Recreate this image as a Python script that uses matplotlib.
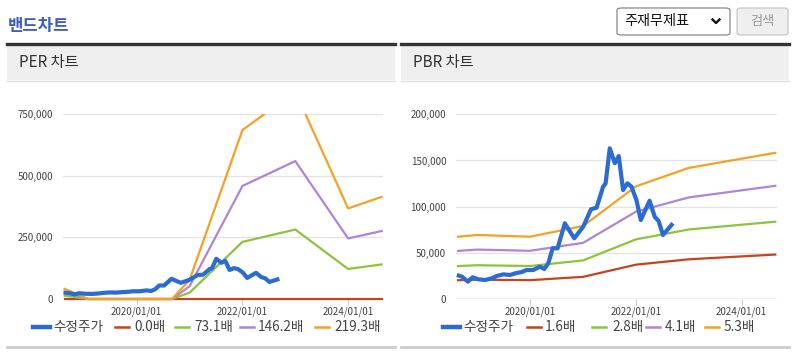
import matplotlib
matplotlib.use("Agg")
import matplotlib.pyplot as plt
import matplotlib.dates as mdates
from matplotlib.lines import Line2D
from matplotlib.patches import Rectangle, FancyBboxPatch
import pandas as pd

plt.rcParams['font.family'] = ['Noto Sans CJK KR', 'DejaVu Sans']

# ---------------- data ----------------
price_dates = ["2018-08-14", "2018-09-18", "2018-10-29", "2018-11-30", "2019-01-10",
               "2019-02-25", "2019-04-12", "2019-05-16", "2019-07-01", "2019-08-16",
               "2019-09-20", "2019-11-04", "2019-12-08", "2020-01-23", "2020-03-09",
               "2020-04-08", "2020-05-06", "2020-06-05", "2020-07-09", "2020-08-28",
               "2020-11-01", "2021-01-02", "2021-02-24", "2021-04-04", "2021-05-19",
               "2021-06-05", "2021-07-04", "2021-08-08", "2021-09-04", "2021-10-04",
               "2021-11-03", "2021-12-01", "2022-01-04", "2022-02-03", "2022-04-05",
               "2022-05-10", "2022-06-06", "2022-07-06", "2022-09-13"]
price = [26000, 24200, 18800, 23500, 21300, 20600, 22400, 24900, 26700, 26000,
         27800, 29200, 31400, 31400, 35000, 32500, 38700, 54900, 54900, 82000,
         65700, 78300, 97100, 98900, 121600, 125000, 163200, 147000, 154800, 118000,
         125300, 121600, 107200, 85500, 106400, 89100, 84500, 69300, 82000]

per_dates = ["2018-08-14", "2019-02-01", "2020-01-01", "2020-09-01", "2021-01-01",
             "2022-01-01", "2023-01-01", "2024-01-01", "2024-08-27"]
per_labels = ["0.0배", "73.1배", "146.2배", "219.3배"]
per_0 = [0, 0, 0, 0, 0, 0, 0, 0, 0]
per_73 = [14000, 0, 0, 0, 26000, 232000, 282000, 122000, 141000]
per_146 = [29000, 0, 0, 0, 52000, 459000, 560000, 246000, 277000]
per_219 = [43000, 0, 0, 0, 78000, 686000, 842000, 368000, 416000]

pbr_dates = ["2018-08-14", "2019-01-01", "2020-01-01", "2021-01-01", "2022-01-01",
             "2023-01-01", "2024-08-27"]
pbr_labels = ["1.6배", "2.8배", "4.1배", "5.3배"]
pbr_16 = [20300, 20900, 20400, 24000, 37200, 43000, 48200]
pbr_28 = [35600, 36600, 35700, 41800, 64600, 75300, 83800]
pbr_41 = [52000, 53500, 52200, 60800, 94600, 110000, 122700]
pbr_53 = [67300, 69300, 67500, 79000, 122000, 142000, 158500]

x_ticks = ["2020-01-01", "2022-01-01", "2024-01-01"]
x_tick_labels = ["2020/01/01", "2022/01/01", "2024/01/01"]
per_yticks = [0, 250000, 500000, 750000]
pbr_yticks = [0, 50000, 100000, 150000, 200000]

C_BLUE = '#2a6bd6'
C_RED = '#c8421b'
C_GREEN = '#8cc43c'
C_PURPLE = '#ae85dc'
C_ORANGE = '#f5a122'
band_colors = [C_RED, C_GREEN, C_PURPLE, C_ORANGE]

W, H = 798, 354
fig = plt.figure(figsize=(W / 100, H / 100), dpi=100)
fig.patch.set_facecolor('white')


def fx(px):
    return px / W


def fy(py):
    return 1 - py / H


# ---------------- page decoration ----------------
fig.text(fx(8), fy(25.5), "밴드차트", fontsize=12, fontweight='bold', color='#3d5cc2',
         ha='left', va='center')

# dropdown
fig.add_artist(FancyBboxPatch((fx(617), fy(35)), fx(113), 27 / H,
                              boxstyle="round,pad=0,rounding_size=0.006",
                              transform=fig.transFigure, facecolor='white',
                              edgecolor='#8a8a8a', linewidth=0.9))
fig.text(fx(624), fy(21.5), "주재무제표", fontsize=10.2, color='#111', ha='left', va='center')
fig.add_artist(Line2D([fx(712.5), fx(716), fx(719.5)], [fy(19.5), fy(23), fy(19.5)],
                      transform=fig.transFigure, color='#111', linewidth=1.7))
# button
fig.add_artist(FancyBboxPatch((fx(737), fy(35)), fx(51), 27 / H,
                              boxstyle="round,pad=0,rounding_size=0.006",
                              transform=fig.transFigure, facecolor='#efefef',
                              edgecolor='#c8c8c8', linewidth=0.9))
fig.text(fx(762.5), fy(21.5), "검색", fontsize=9.5, color='#9a9a9a', ha='center', va='center')

for (x0, x1, name) in [(7, 395, "PER 차트"), (401, 789, "PBR 차트")]:
    fig.add_artist(Rectangle((fx(x0), fy(80)), fx(x1 - x0), 35 / H, transform=fig.transFigure,
                             facecolor='#efefef', edgecolor='none'))
    fig.add_artist(Line2D([fx(x0), fx(x1)], [fy(44), fy(44)], transform=fig.transFigure,
                          color='#333333', linewidth=2.4))
    fig.add_artist(Line2D([fx(x0), fx(x1)], [fy(80.5), fy(80.5)], transform=fig.transFigure,
                          color='#dddddd', linewidth=1))
    fig.add_artist(Line2D([fx(x0), fx(x1)], [fy(346.5), fy(346.5)], transform=fig.transFigure,
                          color='#cccccc', linewidth=2))
    fig.text(fx(x0 + 12), fy(62.5), name, fontsize=11, color='#333333', ha='left', va='center')

xmin = pd.Timestamp("2018-08-08")
xmax = pd.Timestamp("2024-08-29")


def setup_axes(left, right, yticks, ymax):
    ax = fig.add_axes([fx(left), fy(299), fx(right - left), (299 - 114.3) / H])
    ax.set_xlim(xmin, xmax)
    ax.set_ylim(0, ymax)
    for s in ax.spines.values():
        s.set_visible(False)
    ax.set_yticks(yticks)
    ax.set_yticklabels([f"{v:,}" for v in yticks])
    ax.set_xticks(pd.to_datetime(x_ticks))
    ax.set_xticklabels(x_tick_labels)
    ax.tick_params(axis='y', length=0, pad=7, labelsize=7, labelcolor='#444444')
    ax.tick_params(axis='x', length=4, width=0.8, color='#cccccc', pad=1.5, labelsize=7,
                   labelcolor='#444444')
    ax.grid(axis='y', color='#e3e3e3', linewidth=0.9)
    ax.set_axisbelow(True)
    ax.axhline(0, color='#cccccc', linewidth=1, zorder=1)
    clip = Rectangle((0, -0.03), 1, 1.03, transform=ax.transAxes)
    return ax, clip


def draw(ax, clip, x, y, color, lw, z):
    ln, = ax.plot(pd.to_datetime(x), y, color=color, linewidth=lw, zorder=z,
                  solid_joinstyle='round', solid_capstyle='butt')
    ln.set_clip_path(clip)


def legend(x_positions, labels, colors):
    ly = fy(327)
    for (lx, tx), lab, col in zip(x_positions, labels, colors):
        lw = 3.2 if col == C_BLUE else 1.8
        fig.add_artist(Line2D([fx(lx), fx(lx + (17 if col == C_BLUE else 14))], [ly, ly],
                              transform=fig.transFigure, color=col, linewidth=lw))
        fig.text(fx(tx), ly, lab, fontsize=9.8, color='#444444', ha='left', va='center')


# PER chart
ax1, clip1 = setup_axes(62.7, 383, per_yticks, 750000)
for vals, col, z in zip([per_0, per_73, per_146, per_219], band_colors, [3, 4, 5, 6]):
    draw(ax1, clip1, per_dates, vals, col, 1.6, z)
draw(ax1, clip1, price_dates, price, C_BLUE, 3.0, 7)
legend([(33, 53), (115, 134), (175, 194), (240, 258), (315, 334)],
       ["수정주가"] + per_labels, [C_BLUE] + band_colors)

# PBR chart
ax2, clip2 = setup_axes(456, 776.7, pbr_yticks, 200000)
for vals, col, z in zip([pbr_16, pbr_28, pbr_41, pbr_53], band_colors, [3, 4, 5, 6]):
    draw(ax2, clip2, pbr_dates, vals, col, 1.6, z)
draw(ax2, clip2, price_dates, price, C_BLUE, 3.0, 7)
legend([(443, 463), (527, 545), (592, 612), (646, 665), (705, 724)],
       ["수정주가"] + pbr_labels, [C_BLUE] + band_colors)

fig.savefig("out.png", dpi=100, facecolor='white')
